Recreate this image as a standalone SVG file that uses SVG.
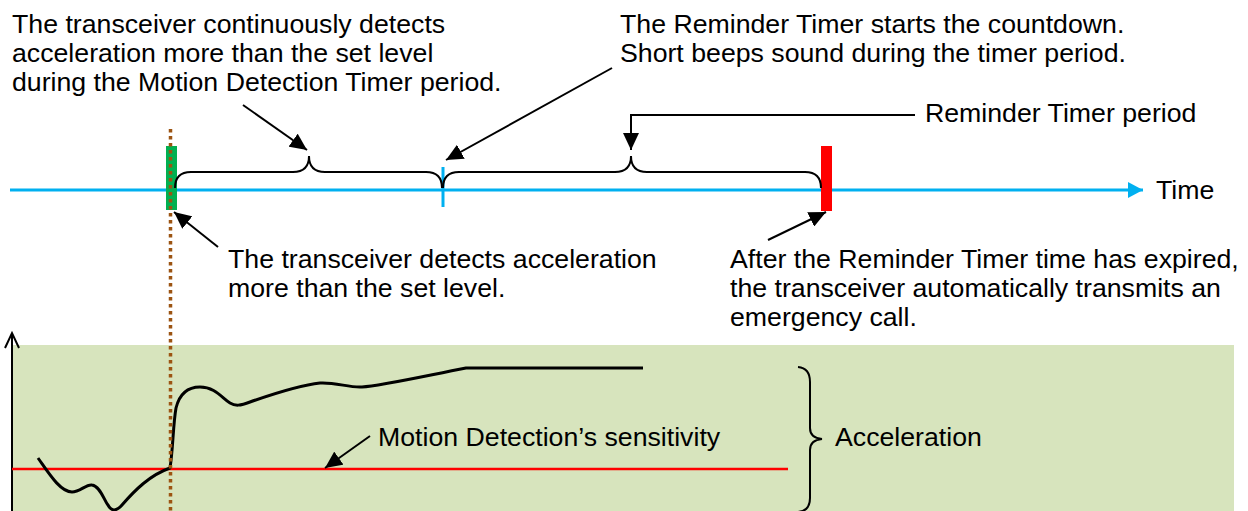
<svg xmlns="http://www.w3.org/2000/svg" width="1248" height="511" viewBox="0 0 1248 511">
<defs>
<style>
text{font-family:"Liberation Sans",Arial,sans-serif;font-size:26.7px;fill:#000}
.con{stroke:#000;stroke-width:2;fill:none}
.brace{stroke:#000;stroke-width:2;fill:none}
</style>
<marker id="ah" markerUnits="userSpaceOnUse" markerWidth="18" markerHeight="16" refX="17" refY="8" orient="auto"><path d="M0,0 L17,8 L0,16 z" fill="#000"/></marker>
<marker id="ahb" markerUnits="userSpaceOnUse" markerWidth="16" markerHeight="16" refX="15" refY="8" orient="auto"><path d="M0,0 L15,8 L0,16 z" fill="#00B0F0"/></marker>
</defs>
<rect id="panel" x="12" y="345" width="1222" height="166" fill="#D7E4BD"/>
<g id="time-axis">
<line x1="10" y1="190" x2="1143" y2="190" stroke="#00B0F0" stroke-width="3" marker-end="url(#ahb)"/>
<text x="1156" y="199">Time</text>
</g>
<g id="start-marker"><rect x="166" y="146" width="11" height="64" fill="#00B050"/></g>
<g id="reminder-start"><line x1="443" y1="167" x2="443" y2="207" stroke="#00B0F0" stroke-width="3"/></g>
<g id="end-marker"><rect x="821" y="146" width="11" height="65" fill="#FF0000"/></g>
<g id="brace-motion"><path class="brace" d="M175,188 Q175,172 191,172 L293,172 Q309,172 309,156 Q309,172 325,172 L426,172 Q442,172 442,188"/></g>
<g id="brace-reminder"><path class="brace" d="M443,188 Q443,172 459,172 L615,172 Q631,172 631,156 Q631,172 647,172 L805,172 Q821,172 821,188"/></g>
<g id="y-axis">
<line x1="12" y1="511" x2="12" y2="333" stroke="#000" stroke-width="2"/>
<polyline points="5,348 12,333 19,348" fill="none" stroke="#000" stroke-width="2"/>
</g>
<g id="threshold"><line x1="12" y1="469" x2="788" y2="469" stroke="#FF0000" stroke-width="2.5"/></g>
<g id="accel-curve"><path d="M38,458 C48,472 60,492 72,492 C80,492 86,484 92,485 C100,486 104,500 108,505 C111,511 116,512 122,505 C135,490 150,475 170,468 C173,450 173,425 176,408 C180,392 190,387 200,387 C215,387 222,398 230,403 C235,406 240,406 250,402 C270,395 300,385 320,383 C335,382 350,388 362,387 C380,386 420,377 466,368 L643,368" fill="none" stroke="#000" stroke-width="3"/></g>
<g id="detect-line"><line x1="170.5" y1="129" x2="170.5" y2="511" stroke="#9C5412" stroke-width="3.5" stroke-dasharray="3.5 3.5"/></g>
<g id="brace-accel"><path class="brace" d="M798,367 Q810,368 810,382 L810,428 Q810,438 822,439 Q810,440 810,450 L810,498 Q810,511 798,512"/></g>
<g id="connectors">
<line class="con" x1="243" y1="105" x2="307" y2="150" marker-end="url(#ah)"/>
<line class="con" x1="612" y1="68" x2="446" y2="160" marker-end="url(#ah)"/>
<polyline class="con" points="915,115 631,115 631,150" marker-end="url(#ah)"/>
<line class="con" x1="218" y1="247" x2="174" y2="212" marker-end="url(#ah)"/>
<line class="con" x1="768" y1="240" x2="826" y2="212" marker-end="url(#ah)"/>
<line class="con" x1="370" y1="436" x2="325" y2="468" marker-end="url(#ah)"/>
</g>
<g id="note-motion-period">
<text x="12" y="33">The transceiver continuously detects</text>
<text x="12" y="62">acceleration more than the set level</text>
<text x="12" y="91">during the Motion Detection Timer period.</text>
</g>
<g id="note-reminder-start">
<text x="620" y="33">The Reminder Timer starts the countdown.</text>
<text x="620" y="62">Short beeps sound during the timer period.</text>
</g>
<g id="note-reminder-period"><text x="925" y="122">Reminder Timer period</text></g>
<g id="note-detect">
<text x="228" y="268">The transceiver detects acceleration</text>
<text x="228" y="297">more than the set level.</text>
</g>
<g id="note-expire">
<text x="730" y="268">After the Reminder Timer time has expired,</text>
<text x="730" y="297">the transceiver automatically transmits an</text>
<text x="730" y="326">emergency call.</text>
</g>
<g id="note-sensitivity"><text x="378" y="446">Motion Detection’s sensitivity</text></g>
<g id="note-accel"><text x="835" y="446">Acceleration</text></g>
</svg>
